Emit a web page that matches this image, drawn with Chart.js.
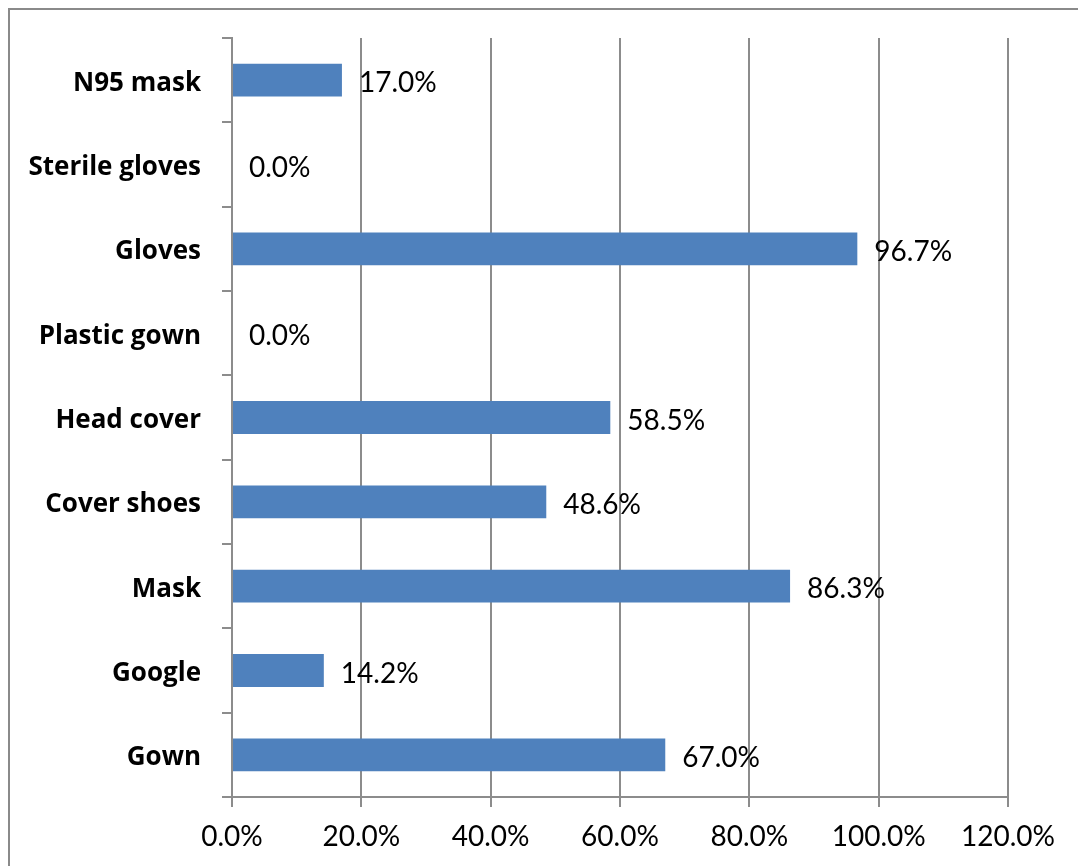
<!DOCTYPE html>
<html>
<head>
<meta charset="utf-8">
<script src="https://cdn.jsdelivr.net/npm/chart.js@4"></script>
<style>
  html, body { margin: 0; padding: 0; background: #fff; overflow: hidden; }
  #wrap { position: relative; width: 1078px; height: 866px; }
  #frame { position: absolute; left: 8px; top: 8px; width: 2000px; height: 2000px; border: 2px solid #8a8a8a; box-sizing: border-box; pointer-events: none; }
</style>
</head>
<body>
<div id="wrap">
  <div id="frame"></div>
  <canvas id="ppe-chart"></canvas>
</div>
<script>
// Data
const categories = ["N95 mask", "Sterile gloves", "Gloves", "Plastic gown", "Head cover", "Cover shoes", "Mask", "Google", "Gown"];
const percentValues = [17.0, 0.0, 96.7, 0.0, 58.5, 48.6, 86.3, 14.2, 67.0];
const axisMin = 0;
const axisMax = 120;
const axisStep = 20;

const gridColor = '#8c8c8c';
const barColor = '#4F81BD';

// draws the "xx.x%" value next to each bar end
const valueLabels = {
  id: 'valueLabels',
  afterDatasetsDraw(chart) {
    const ctx = chart.ctx;
    const meta = chart.getDatasetMeta(0);
    ctx.save();
    ctx.font = '28px Lato';
    ctx.fillStyle = '#000';
    ctx.textAlign = 'left';
    ctx.textBaseline = 'middle';
    meta.data.forEach((bar, i) => {
      const v = chart.data.datasets[0].data[i];
      ctx.fillText(v.toFixed(1) + '%', bar.x + 17, bar.y + 3);
    });
    ctx.restore();
  }
};

const ctx = document.getElementById("ppe-chart").getContext("2d");
new Chart(ctx, {
  type: 'bar',
  data: {
    labels: categories,
    datasets: [{
      data: percentValues,
      backgroundColor: barColor,
      borderWidth: 0,
      barPercentage: 0.39,
      categoryPercentage: 1
    }]
  },
  options: {
    indexAxis: 'y',
    responsive: true,
    maintainAspectRatio: false,
    animation: false,
    layout: { padding: { top: 38, right: 70 } },
    plugins: {
      legend: { display: false },
      tooltip: { enabled: false }
    },
    scales: {
      x: {
        min: axisMin,
        max: axisMax,
        ticks: {
          stepSize: axisStep,
          color: '#000',
          padding: 13,
          font: { family: 'Lato', size: 28 },
          callback: v => v.toFixed(1) + '%'
        },
        grid: { color: gridColor, lineWidth: 2, tickLength: 10, drawTicks: true },
        border: { display: true, color: gridColor, width: 2 },
        afterFit: s => { s.height = 69; }
      },
      y: {
        ticks: {
          color: '#000',
          padding: 21,
          labelOffset: 3,
          font: { family: 'Open Sans', size: 26, weight: 'bold' }
        },
        grid: { drawOnChartArea: false, drawTicks: true, tickLength: 10, color: gridColor, lineWidth: 2, offset: true },
        border: { display: true, color: gridColor, width: 2 },
        afterFit: s => { s.width = 232; }
      }
    }
  },
  plugins: [valueLabels]
});
</script>
</body>
</html>
